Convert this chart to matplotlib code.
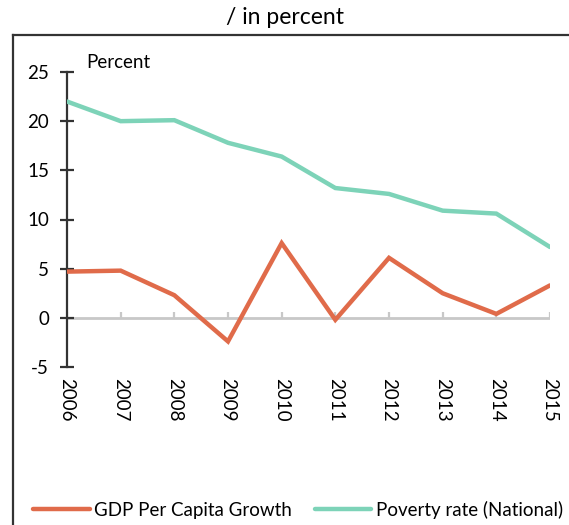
import matplotlib
matplotlib.use("Agg")
import matplotlib.pyplot as plt
from matplotlib.lines import Line2D

plt.rcParams['font.family'] = ['Lato', 'DejaVu Sans']

years = [2006, 2007, 2008, 2009, 2010, 2011, 2012, 2013, 2014, 2015]
gdp_growth = [4.7, 4.8, 2.3, -2.4, 7.6, -0.2, 6.1, 2.5, 0.4, 3.3]
poverty = [22.0, 20.0, 20.1, 17.8, 16.4, 13.2, 12.6, 10.9, 10.6, 7.2]
yticks = [-5, 0, 5, 10, 15, 20, 25]

c_gdp = '#E06B4A'
c_pov = '#7DD3B8'

fig = plt.figure(figsize=(5.69, 5.25), dpi=100)
ax = fig.add_axes([67/569, 1-367/525, (550-67)/569, (367-72)/525])

ax.plot(years, gdp_growth, color=c_gdp, lw=3.2, solid_capstyle='round', solid_joinstyle='miter', zorder=3, label='GDP Per Capita Growth')
ax.plot(years, poverty, color=c_pov, lw=3.2, solid_capstyle='round', solid_joinstyle='miter', zorder=3, label='Poverty rate (National)')

ax.set_xlim(2006, 2015)
ax.set_ylim(-5, 25)
ax.set_yticks(yticks)
ax.set_yticklabels([str(v) for v in yticks], fontsize=13.5)

for s in ['top', 'right', 'bottom']:
    ax.spines[s].set_visible(False)
ax.spines['left'].set_color('#333333')
ax.spines['left'].set_linewidth(1.6)
ax.tick_params(axis='y', direction='inout', length=10, width=1.6, color='#333333', pad=8)

# zero line with small upward ticks
ax.axhline(0, color='#C8C8C8', lw=2, zorder=1)
for y in years:
    ax.plot([y, y], [0, 0.55], color='#C8C8C8', lw=1.6, zorder=1, solid_capstyle='butt')

ax.set_xticks(years)
ax.set_xticklabels([str(y) for y in years], rotation=270, fontsize=13.5)
ax.tick_params(axis='x', length=0, pad=8)

ax.text(0.04, 1.005, 'Percent', transform=ax.transAxes, fontsize=13.5, va='bottom', ha='left')

fig.text(0.5, 1-18/525, '/ in percent', fontsize=16.5, ha='center', va='center')

# outer border
fig.add_artist(Line2D([13/569, 13/569], [0, 1-35/525], transform=fig.transFigure, color='#333333', lw=1.6))
fig.add_artist(Line2D([13/569, 1], [1-35/525, 1-35/525], transform=fig.transFigure, color='#333333', lw=1.6))

fig.legend(loc='center', bbox_to_anchor=(298/569, 1-510/525), ncol=2, frameon=False, fontsize=13.5,
           handlelength=3.0, handletextpad=0.25, columnspacing=1.2, borderpad=0.2)

fig.savefig('out.png', dpi=100)
